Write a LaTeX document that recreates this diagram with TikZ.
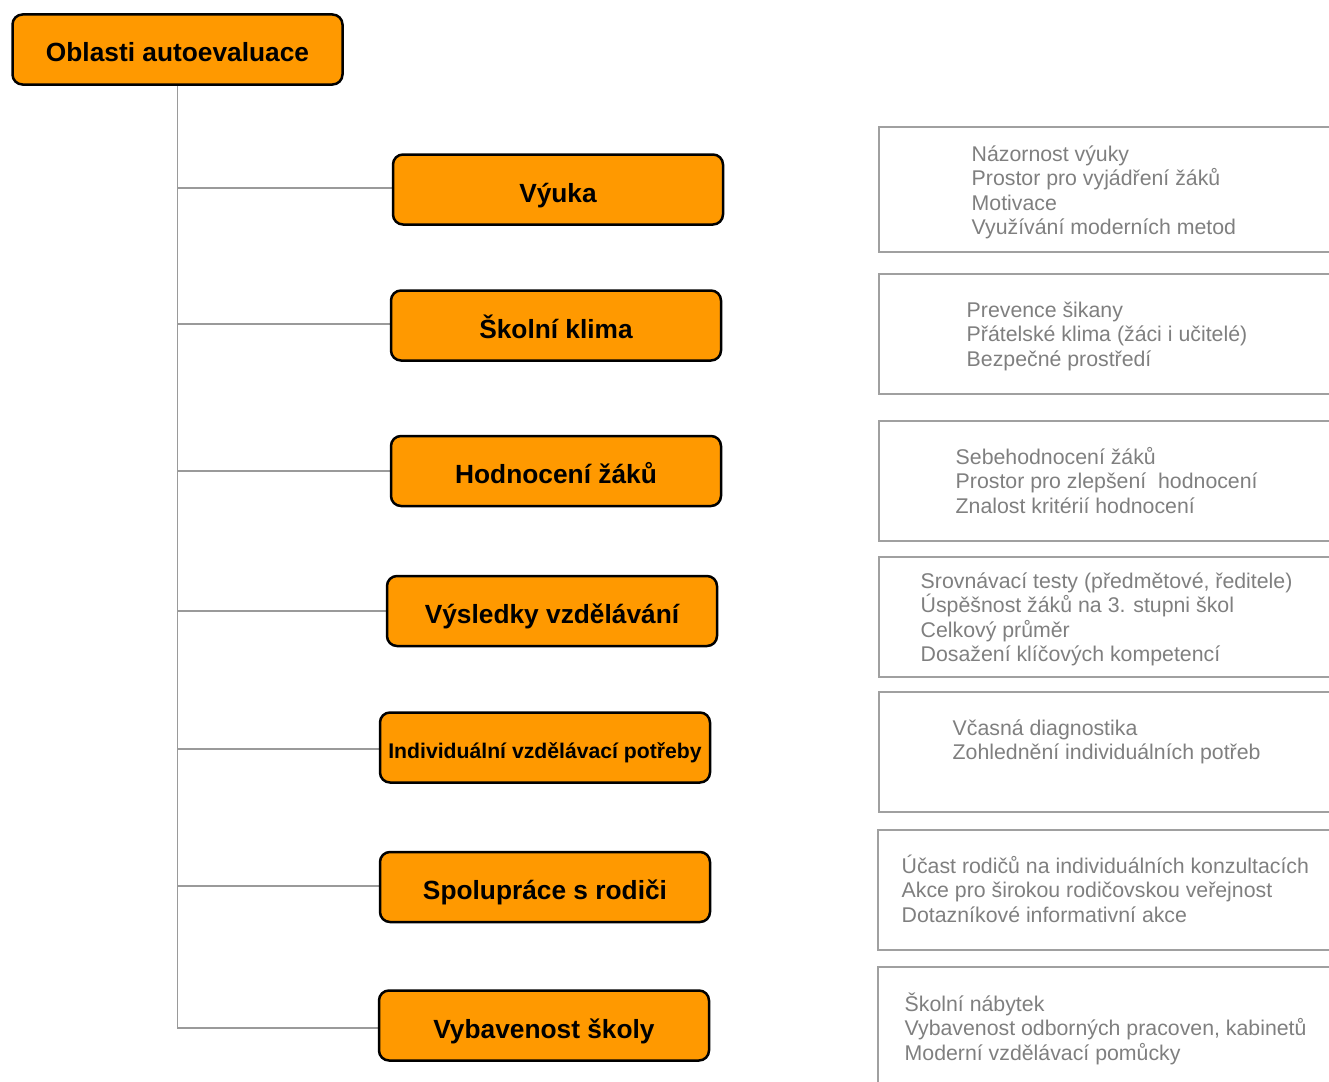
\documentclass[tikz,border=0pt]{standalone}
\usepackage{fontspec}
\setmainfont{Liberation Sans}
\usetikzlibrary{backgrounds}
\definecolor{orangefill}{HTML}{FF9900}
\definecolor{linegray}{HTML}{9A9A9A}
\definecolor{framegray}{HTML}{A0A0A0}
\definecolor{textgray}{HTML}{7F7F7F}
\newcommand\tstrut{\rule{0pt}{22pt}}
\begin{document}
\begin{tikzpicture}[x=1pt,y=-1pt,
  obox/.style={draw=black, line width=2.5pt, fill=orangefill, rounded corners=10pt,
    minimum width=330pt, minimum height=70pt, inner sep=0pt,
    text height=27pt, text depth=2pt,
    font=\fontsize{26.3}{30}\selectfont\bfseries},
  conn/.style={draw=linegray, line width=1.1pt},
  frame/.style={draw=framegray, line width=1.3pt},
  ltext/.style={anchor=north west, inner sep=0pt, align=left, text=textgray,
    font=\fontsize{21.3}{24.4}\selectfont}
]
\useasboundingbox (0,0) rectangle (1329,1081);
\clip (0,0) rectangle (1329,1081);

\node[obox] (root) at (177.5,49.5) {Oblasti autoevaluace};
\node[obox] (b1) at (558,189.5) {Výuka};
\node[obox] (b2) at (556,325.5) {Školní klima};
\node[obox] (b3) at (556,471) {Hodnocení žáků};
\node[obox] (b4) at (552,611) {Výsledky vzdělávání};
\node[obox, font=\fontsize{21.2}{25}\selectfont\bfseries, text height=25pt, text depth=3pt] (b5) at (545,747.5) {Individuální vzdělávací potřeby};
\node[obox] (b6) at (545,887) {Spolupráce s rodiči};
\node[obox] (b7) at (544,1025.5) {Vybavenost školy};

\begin{scope}[on background layer]
\foreach \b/\dy in {b1/-1.5,b2/-1.5,b3/0,b4/0,b5/1.5,b6/-1,b7/2.5}{
  \draw[conn] (root.south) |- ([yshift=-\dy pt]\b.west);
}
\end{scope}

% right frames (open to the right)
\draw[frame] (1340,127) -| (879,252) -- (1340,252);
\draw[frame] (1340,274) -| (879,394) -- (1340,394);
\draw[frame] (1340,421) -| (879,541) -- (1340,541);
\draw[frame] (1340,557) -| (879,677) -- (1340,677);
\draw[frame] (1340,692) -| (879,812) -- (1340,812);
\draw[frame] (1340,830) -| (878,950) -- (1340,950);
\draw[frame] (1340,967) -| (878,1095);

\node[ltext] (t1) at (971.5,139) {\tstrut Názornost výuky\\Prostor pro vyjádření žáků\\Motivace\\Využívání moderních metod};
\node[ltext] (t2) at (966.5,295) {\tstrut Prevence šikany\\Přátelské klima (žáci i učitelé)\\Bezpečné prostředí};
\node[ltext] (t3) at (955.5,442) {\tstrut Sebehodnocení žáků\\Prostor pro zlepšení~ hodnocení\\Znalost kritérií hodnocení};
\node[ltext] (t4) at (920.5,566) {\tstrut Srovnávací testy (předmětové, ředitele)\\Úspěšnost žáků na 3. stupni škol\\Celkový průměr\\Dosažení klíčových kompetencí};
\node[ltext] (t5) at (952.5,713) {\tstrut Včasná diagnostika\\Zohlednění individuálních potřeb};
\node[ltext] (t6) at (901.5,851) {\tstrut Účast rodičů na individuálních konzultacích\\Akce pro širokou rodičovskou veřejnost\\Dotazníkové informativní akce};
\node[ltext] (t7) at (904.5,989) {\tstrut Školní nábytek\\Vybavenost odborných pracoven, kabinetů\\Moderní vzdělávací pomůcky};
\end{tikzpicture}
\end{document}
